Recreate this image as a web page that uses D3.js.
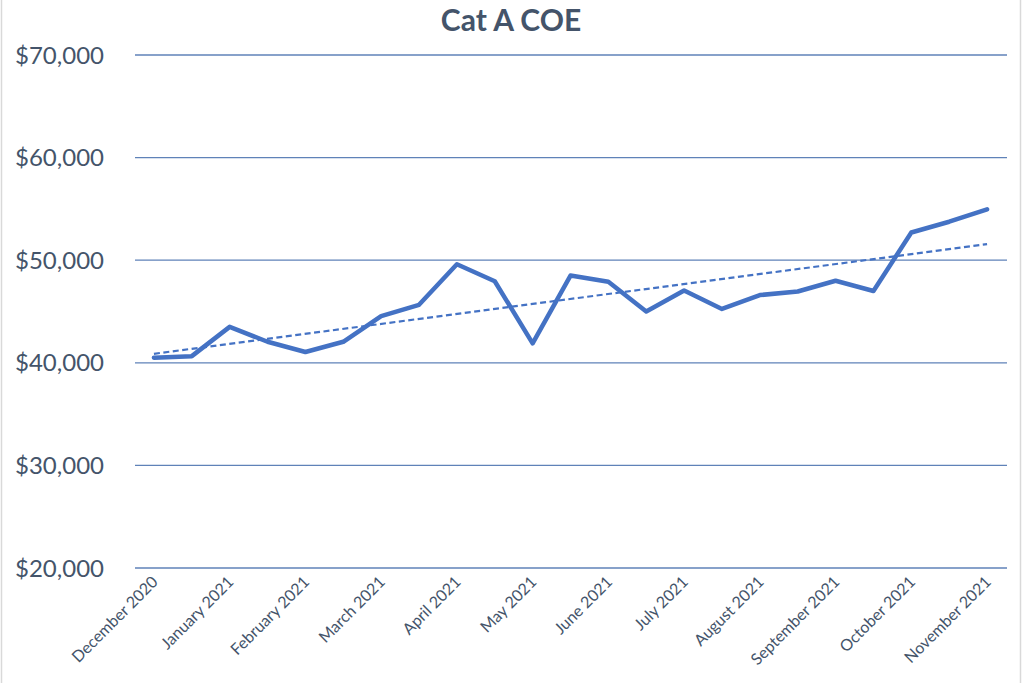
<!DOCTYPE html>
<html>
<head>
<meta charset="utf-8">
<script src="https://cdn.jsdelivr.net/npm/d3@7"></script>
<style>
  body { margin: 0; background: #fff; }
  text { font-family: Lato, "Open Sans", sans-serif; fill: #44546a; }
</style>
</head>
<body>
<div id="chart"></div>
<script>
// one entry per bidding exercise, two per month (last month only the first)
var months = ['December 2020', 'January 2021', 'February 2021', 'March 2021',
  'April 2021', 'May 2021', 'June 2021', 'July 2021', 'August 2021',
  'September 2021', 'October 2021', 'November 2021'];
var biddings = [];
months.forEach(function(m) { biddings.push(m + ' (1)'); biddings.push(m + ' (2)'); });
biddings = biddings.slice(0, 23);

var premiums = [40500, 40650, 43500, 42050, 41050, 42050, 44550, 45650, 49600,
  47950, 41900, 48500, 47900, 45000, 47050, 45250, 46600, 46950, 48000, 47000,
  52700, 53750, 54960];

var yTicks = [20000, 30000, 40000, 50000, 60000, 70000];

var width = 1024, height = 683;
var margin = {top: 55, right: 18, bottom: 115, left: 135};

var svg = d3.select('#chart').append('svg')
  .attr('width', width)
  .attr('height', height);

// frame
svg.append('rect')
  .attr('x', 1.5).attr('y', -2).attr('width', 1019).attr('height', height + 4)
  .attr('fill', 'none').attr('stroke', '#d9d9d9').attr('stroke-width', 1.5);

var x = d3.scalePoint()
  .domain(biddings)
  .range([margin.left, width - margin.right])
  .padding(0.5);

var y = d3.scaleLinear()
  .domain([20000, 70000])
  .range([568, 55]);

// gridlines
svg.append('g')
  .selectAll('line')
  .data(yTicks)
  .enter().append('line')
  .attr('x1', margin.left).attr('x2', width - margin.right + 1)
  .attr('y1', function(d) { return y(d); })
  .attr('y2', function(d) { return y(d); })
  .attr('stroke', '#5f82b8')
  .attr('stroke-width', 1.3);

// y labels
svg.append('g')
  .selectAll('text')
  .data(yTicks)
  .enter().append('text')
  .attr('x', 104)
  .attr('y', function(d) { return y(d); })
  .attr('dy', '0.36em')
  .attr('text-anchor', 'end')
  .style('font-size', '24px')
  .text(function(d) { return '$' + d3.format(',')(d); });

// x labels, one per month
svg.append('g')
  .selectAll('text')
  .data(months)
  .enter().append('text')
  .attr('transform', function(d, i) {
    return 'translate(' + (x(biddings[i * 2]) + 5) + ',583) rotate(-45)';
  })
  .attr('text-anchor', 'end')
  .style('font-size', '16px')
  .text(function(d) { return d; });

// linear trendline
var n = premiums.length;
var mx = d3.mean(premiums, function(d, i) { return i; });
var my = d3.mean(premiums);
var slope = d3.sum(premiums, function(d, i) { return (i - mx) * (d - my); }) /
  d3.sum(premiums, function(d, i) { return (i - mx) * (i - mx); });
var icpt = my - slope * mx;

svg.append('line')
  .attr('x1', x(biddings[0])).attr('y1', y(icpt))
  .attr('x2', x(biddings[n - 1])).attr('y2', y(icpt + slope * (n - 1)))
  .attr('stroke', '#4472c4')
  .attr('stroke-width', 2.2)
  .attr('stroke-dasharray', '6,3.5');

// price line
var line = d3.line()
  .x(function(d, i) { return x(biddings[i]); })
  .y(function(d) { return y(d); });

svg.append('path')
  .datum(premiums)
  .attr('d', line)
  .attr('fill', 'none')
  .attr('stroke', '#4472c4')
  .attr('stroke-width', 4.5)
  .attr('stroke-linejoin', 'round')
  .attr('stroke-linecap', 'round');

// title
svg.append('text')
  .attr('x', 511).attr('y', 31)
  .attr('text-anchor', 'middle')
  .style('font-size', '30px')
  .style('font-weight', 'bold')
  .text('Cat A COE');
</script>
</body>
</html>
